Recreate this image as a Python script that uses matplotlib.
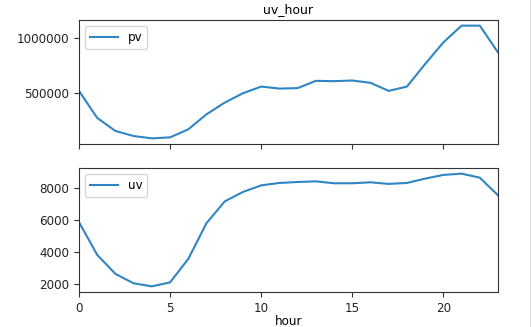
import numpy as np
import pandas as pd
from matplotlib import pyplot as plt

hours = list(range(24))
pv = [518000, 273000, 155000, 109000, 88000, 97000, 170000, 306000,
      412000, 497000, 557000, 539000, 543000, 609000, 606000, 612000,
      591000, 518000, 557000, 761000, 957000, 1109000, 1109000, 866000]
uv = [5850, 3810, 2625, 2040, 1850, 2100, 3560, 5790,
      7140, 7730, 8140, 8290, 8350, 8390, 8270, 8270,
      8330, 8230, 8290, 8560, 8790, 8870, 8620, 7520]

df = pd.DataFrame({'hour': hours, 'pv': pv, 'uv': uv}).set_index('hour')

plt.rcParams['font.size'] = 8.6
W, H = 532, 327
fig = plt.figure(figsize=(W / 100, H / 100), dpi=100)
ax1 = fig.add_axes([79 / W, 1 - 144 / H, 419 / W, 124 / H])
ax2 = fig.add_axes([79 / W, 1 - 292 / H, 419 / W, 124 / H], sharex=ax1)

ax1.plot(df.index, df['pv'], color='#2f86c3', label='pv', linewidth=1.5)
ax2.plot(df.index, df['uv'], color='#2f86c3', label='uv', linewidth=1.5)

ax1.set_xlim(0, 23)
ax1.set_yticks([500000, 1000000])
ax1.ticklabel_format(axis='y', style='plain', useOffset=False)
ax1.tick_params(axis='x', labelbottom=False)
ax2.set_xticks([0, 5, 10, 15, 20])
ax2.set_yticks([2000, 4000, 6000, 8000])
ax1.set_title('uv_hour', fontsize=9, pad=5)
ax2.set_xlabel('hour', labelpad=0)

for ax in (ax1, ax2):
    ax.legend(loc='upper left', fontsize=8.6, handlelength=2.4)
    ax.tick_params(colors='#333333', labelcolor='#222222')
    for s in ax.spines.values():
        s.set_color('#333333')

fig.add_artist(plt.Line2D([530 / W, 530 / W], [0, 1], color='#dddddd', linewidth=0.8))

plt.savefig('out.png', dpi=100)
